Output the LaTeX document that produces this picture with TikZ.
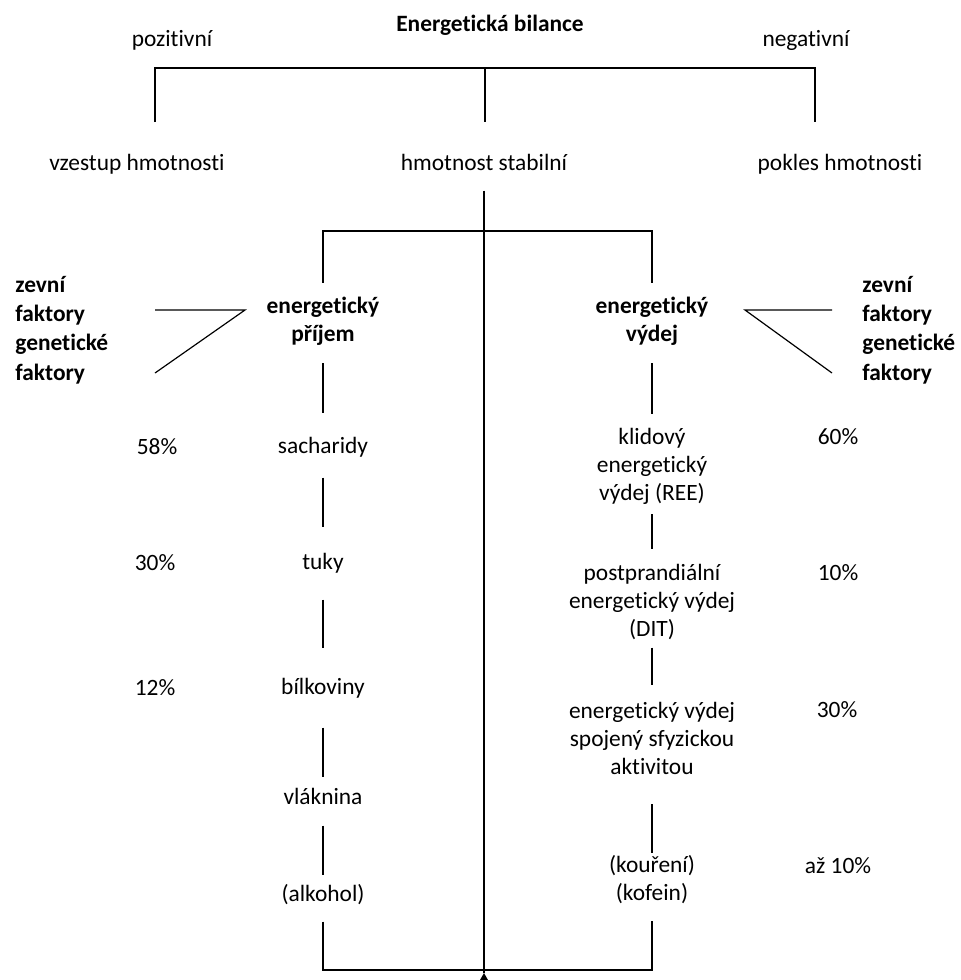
\documentclass[tikz,border=0pt]{standalone}
\usepackage{fontspec}
\setmainfont{Carlito}[Ligatures=NoCommon]
\newcommand\txtsize{\fontsize{11.7}{14}\selectfont}
\tikzset{
  lbl/.style={inner sep=0pt, align=center, font=\txtsize},
  one/.style={lbl, text height=8.2pt, text depth=2.4pt},
  hd/.style={lbl, font=\txtsize\bfseries},
  link/.style={line width=0.6pt},
}
\begin{document}
\begin{tikzpicture}[x=0.5pt,y=-0.5pt]
\useasboundingbox (0,0) rectangle (960,980);
\node[hd, text height=8.2pt, text depth=2.4pt] (title) at (490,26) {Energetická bilance};
\node[one] (poz) at (172,41) {pozitivní};
\node[one] (neg) at (806,41) {negativní};
\node[one] (vzes) at (137,165) {vzestup hmotnosti};
\node[one] (stab) at (484,165) {hmotnost stabilní};
\node[one] (pokl) at (840,165) {pokles hmotnosti};
\node[hd] (prij) at (323,321) {energetický\\příjem};
\node[hd] (vyd) at (652,321) {energetický\\výdej};
\node[hd, align=left, anchor=west, font=\fontsize{11.7}{14.7}\selectfont\bfseries] (zevL) at (15,330) {zevní\\faktory\\genetické\\faktory};
\node[hd, align=left, anchor=west, font=\fontsize{11.7}{14.7}\selectfont\bfseries] (zevR) at (862,330) {zevní\\faktory\\genetické\\faktory};
\node[one] (sach) at (323,448) {sacharidy};
\node[one] (tuky) at (323,564) {tuky};
\node[one] (bilk) at (323,689) {bílkoviny};
\node[one] (vlak) at (323,799) {vláknina};
\node[one] (alk) at (323,896) {(alkohol)};
\node[one] (p58) at (157,449) {58\%};
\node[one] (p30) at (155,565) {30\%};
\node[one] (p12) at (155,690) {12\%};
\node[lbl] (klid) at (652,466) {klidový\\energetický\\výdej (REE)};
\node[lbl] (post) at (652,602) {postprandiální\\energetický výdej\\(DIT)};
\node[lbl] (spoj) at (652,738) {energetický výdej\\spojený sfyzickou\\aktivitou};
\node[lbl] (kour) at (652,880) {(kouření)\\(kofein)};
\node[one] (p60) at (838,439) {60\%};
\node[one] (p10) at (838,575) {10\%};
\node[one] (p30r) at (837,712) {30\%};
\node[one] (p10b) at (838,868) {až 10\%};
\coordinate (topbar) at (485,68);
\coordinate (bL) at (155,122);
\coordinate (bC) at (485,122);
\coordinate (bR) at (815,122);
\coordinate (midbar) at (484,231);
\coordinate (botbar) at (484,970);
\coordinate (fulcrum) at (484,973);
\coordinate (fLa) at (155,310);
\coordinate (fLv) at (245,310);
\coordinate (fLb) at (155,373);
\coordinate (fRa) at (832,310);
\coordinate (fRv) at (745,310);
\coordinate (fRb) at (832,373);
\draw[link] (bL) |- (topbar) -| (bR);
\draw[link] (topbar) -- (bC);
\draw[link, shorten <=7.25pt] (stab.south) -- (fulcrum);
\fill (fulcrum) -- ++(-8,14) -- ++(16,0) -- cycle;
\draw[link, shorten <=6.75pt, shorten >=6.75pt] (prij.north) |- (midbar) -| (vyd.north);
\draw[link, shorten <=7.25pt, shorten >=8.25pt] (alk.south) |- (botbar) -| (kour.south);
\draw[link] (fLa) -- (fLv) -- (fLb);
\draw[link] (fRa) -- (fRv) -- (fRb);
\foreach \a/\b/\s/\e in {prij/sach/8.75/12.25, sach/tuky/9.25/13.25,
  tuky/bilk/12.25/15.25, bilk/vlak/13.75/5.75, vlak/alk/7.75/5.25,
  vyd/klid/8.75/6.75, klid/post/4.75/7.25, post/spoj/3.75/8.25,
  spoj/kour/14.75/1.25}
  \draw[link, shorten <=\s pt, shorten >=\e pt] (\a.south) -- (\b.north);
\end{tikzpicture}
\end{document}
